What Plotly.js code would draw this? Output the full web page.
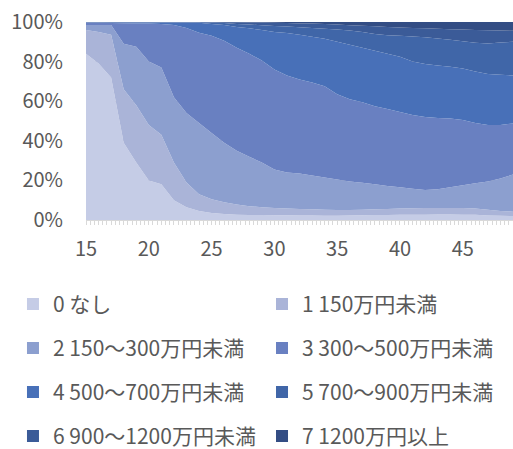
<!DOCTYPE html>
<html>
<head>
<meta charset="utf-8">
<script src="https://cdn.plot.ly/plotly-3.0.1.min.js"></script>
<style>
  html, body { margin: 0; padding: 0; background: #ffffff; }
  #chart { width: 513px; height: 449px; }
</style>
</head>
<body>
<div id="chart"></div>
<script>
// Age of respondent
const ages = [15,16,17,18,19,20,21,22,23,24,25,26,27,28,29,30,31,32,33,34,35,36,37,38,39,40,41,42,43,44,45,46,47,48,49];

// Income bracket labels
const brackets = [
  '0 なし',
  '1 150万円未満',
  '2 150～300万円未満',
  '3 300～500万円未満',
  '4 500～700万円未満',
  '5 700～900万円未満',
  '6 900～1200万円未満',
  '7 1200万円以上'
];

// Share (%) of each bracket by age
const none       = [84,79,72,39,29,20,18,10,6.5,4.5,3.5,3,2.7,2.5,2.5,2.4,2.4,2.3,2.3,2.2,2.2,2.3,2.4,2.5,2.5,2.6,2.6,2.7,2.8,2.8,2.7,2.6,2.3,2.1,2.0];
const under150   = [12,16,21.5,27,29,28,25,19,12.5,8.5,7,6,5.1,4.5,4,3.6,3.4,3.3,3.1,3.0,2.8,2.7,2.8,2.9,3.1,3.2,3.3,3.3,3.2,3.2,3.3,3.2,2.9,2.5,2.2];
const r150_300   = [2.5,3.5,5,23,29.5,32,34,33,35,36,33.5,30,27.2,25,22.5,19.5,18.2,17.9,17.1,16.3,15.5,14.5,13.6,12.6,11.6,10.7,9.9,9.2,9.5,10.5,11.5,12.7,14.3,16.4,18.8];
const r300_500   = [1.1,1.1,1.0,10.4,11.8,19.2,22,36.5,43,45.5,49,51.5,52,52,51.5,50.5,49,47.5,47,46,43,41.5,40.7,39.5,38.8,38,37.2,36.8,36,34.8,33,30.5,28.5,27,25.8];
const r500_700   = [0.2,0.2,0.3,0.4,0.5,0.6,0.8,1.3,2.7,5,6,8,10.5,12.8,15.5,19,21.5,22.5,23,24,26.5,27.5,27.5,28,28,28,27,26.8,26.5,26.1,26,26,25.8,25.3,24.2];
const r700_900   = [0.1,0.1,0.1,0.1,0.1,0.1,0.1,0.1,0.2,0.3,0.8,1.0,1.5,1.9,2.3,3.0,3.2,3.8,4.5,5.1,6.2,7.2,8.0,8.5,9.3,10.5,12.7,13.5,13.7,13.6,13.8,14.5,15.4,16.3,17];
const r900_1200  = [0.05,0.05,0.05,0.05,0.05,0.05,0.05,0.05,0.05,0.05,0.15,0.4,0.9,1.1,1.4,1.6,1.8,2.0,2.2,2.4,2.5,2.6,3.1,3.8,4.2,4.2,4.3,4.5,4.9,5.4,5.9,6.5,6.6,6.1,5.6];
const over1200   = [0.05,0.05,0.05,0.05,0.05,0.05,0.05,0.05,0.05,0.05,0.05,0.1,0.1,0.2,0.3,0.4,0.5,0.7,0.8,1.0,1.3,1.7,1.9,2.2,2.5,2.8,3.0,3.2,3.4,3.6,3.8,4.0,4.2,4.3,4.4];

const shares = [none, under150, r150_300, r300_500, r500_700, r700_900, r900_1200, over1200];

// Light-to-dark blue ramp, one shade per bracket
const colors = ['#c5cce6','#aab4d8','#8c9fcf','#6980c1','#4870b8','#4066a8','#3b5b98','#334d84'];

const textColor = '#595959';
const fontFamily = '"Noto Sans CJK JP", "Noto Sans", sans-serif';

const traces = [];

// 100% stacked areas
shares.forEach((vals, i) => {
  traces.push({
    type: 'scatter',
    x: ages,
    y: vals,
    name: brackets[i],
    stackgroup: 'income',
    groupnorm: i === 0 ? 'percent' : undefined,
    mode: 'none',
    fillcolor: colors[i],
    showlegend: false,
    hoverinfo: 'skip'
  });
});

// Square legend keys, split into two columns
shares.forEach((vals, i) => {
  traces.push({
    type: 'bar',
    x: [null],
    y: [null],
    name: brackets[i],
    marker: { color: colors[i] },
    legend: i % 2 === 0 ? 'legend' : 'legend2',
    legendgroup: 'g' + i,
    showlegend: true,
    hoverinfo: 'skip'
  });
});

const legendCommon = {
  orientation: 'v',
  traceorder: 'grouped',
  tracegroupgap: 13.7,
  yanchor: 'top',
  xanchor: 'left',
  y: -0.322,
  bgcolor: 'rgba(0,0,0,0)',
  borderwidth: 0,
  itemclick: false,
  itemdoubleclick: false,
  font: { family: fontFamily, size: 21, color: textColor }
};

const layout = {
  width: 513,
  height: 449,
  margin: { l: 86, r: 0, t: 22, b: 229, pad: 0, autoexpand: false },
  paper_bgcolor: '#ffffff',
  plot_bgcolor: '#ffffff',
  font: { family: fontFamily, color: textColor },
  hovermode: false,
  xaxis: {
    range: [15, 49],
    tick0: 15,
    dtick: 5,
    ticks: 'outside',
    ticklen: 4,
    tickwidth: 1,
    tickcolor: '#d9d9d9',
    minor: { dtick: 1/3, ticks: 'outside', ticklen: 4, tickcolor: '#d9d9d9', showgrid: false },
    showline: true,
    linecolor: '#d9d9d9',
    showgrid: false,
    zeroline: false,
    ticklabelstandoff: 7,
    tickfont: { family: fontFamily, size: 20, color: textColor },
    fixedrange: true
  },
  yaxis: {
    range: [0, 100],
    tick0: 0,
    dtick: 20,
    ticksuffix: '%',
    ticks: '',
    showline: false,
    showgrid: true,
    gridcolor: '#d9d9d9',
    zeroline: false,
    ticklabelstandoff: 22,
    tickfont: { family: fontFamily, size: 20, color: textColor },
    fixedrange: true
  },
  legend: Object.assign({}, legendCommon, { x: -0.1710 }),
  legend2: Object.assign({}, legendCommon, { x: 0.4122 }),
  showlegend: true
};

Plotly.newPlot('chart', traces, layout, { staticPlot: true, displayModeBar: false });
</script>
</body>
</html>
